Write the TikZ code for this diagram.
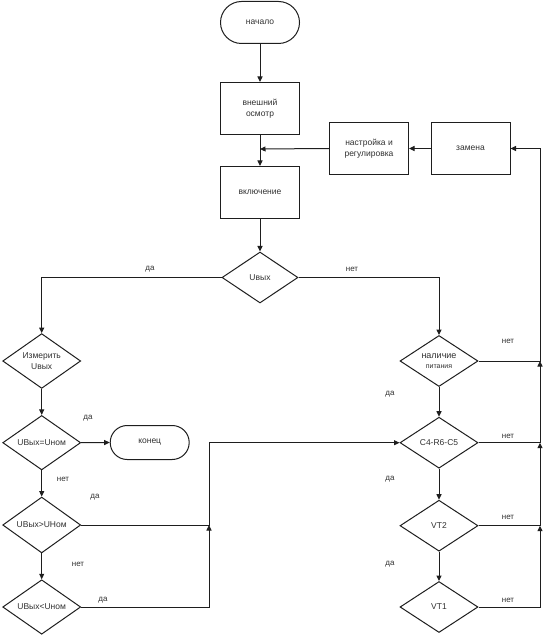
\documentclass[tikz,border=0pt]{standalone}
\usepackage{fontspec}
\setmainfont{Liberation Sans}
\usepackage{xcolor}
\usetikzlibrary{arrows.meta,shapes.geometric}
\definecolor{ink}{HTML}{1E1E1E}
\definecolor{txt}{HTML}{303030}
\tikzset{
  flow/.style={-{Triangle[length=5.5pt,width=5pt]}, draw=ink, line width=1pt},
  box/.style={rectangle, draw=ink, line width=1pt, minimum width=79pt, minimum height=52pt,
    inner sep=0pt, align=center, text=txt, font=\fontsize{8.5}{10.5}\selectfont},
  term/.style={box, rounded corners=17pt},
  cond/.style={diamond, draw=ink, line width=1pt, minimum width=78pt, minimum height=51pt,
    inner sep=0pt, align=center, text=txt, font=\fontsize{8.5}{10.5}\selectfont},
  ans/.style={text=txt, font=\fontsize{8}{9}\selectfont}
}
\begin{document}
\begin{tikzpicture}[x=1pt,y=-1pt]
  \useasboundingbox (0,0) rectangle (546,639);

  % main column
  \node[term, minimum height=42pt, rounded corners=21pt] (start) at (260,22.5) {начало};
  \node[box] (vnesh) at (260,108.5) {внешний\\осмотр};
  \node[box] (vkl) at (260,192.5) {включение};
  \node[box] (nastr) at (369,148.5) {настройка и\\регулировка};
  \node[box] (zam) at (470.5,148.5) {замена};
  \node[cond, minimum width=76pt] (uvyh) at (260,277.5) {Uвых};

  % left branch
  \node[cond] (izm) at (41.7,361) {Измерить\\Uвых};
  \node[cond] (eq) at (41.7,442.7) {UВых=Uном};
  \node[term, minimum height=34pt] (konec) at (149.7,442.5) {конец};
  \node[cond] (gt) at (41.7,525) {UВых>UНом};
  \node[cond] (lt) at (41.7,607) {UВых<Uном};

  % right branch
  \node[cond] (pit) at (439,361) {{\fontsize{9}{10.5}\selectfont наличие}\\{\fontsize{7}{8}\selectfont питания}};
  \node[cond] (c4) at (439,442.7) {C4-R6-C5};
  \node[cond] (vt2) at (439,525.7) {VT2};
  \node[cond] (vt1) at (439,607) {VT1};

  \coordinate (jm) at (260,149);
  \coordinate (jl) at (209,525);
  \coordinate (r2) at (540,361);
  \coordinate (r3) at (540,442.7);
  \coordinate (r4) at (540,525.7);

  \draw[flow] (start) -- (vnesh);
  \draw[flow] (vnesh) -- (vkl);
  \draw[flow] (nastr.west) -- (jm);
  \draw[flow] (zam.west) -- (nastr.east);
  \draw[flow] (vkl) -- (uvyh);
  \draw[flow] (uvyh.west) -| (izm.north);
  \draw[flow] (uvyh.east) -| (pit.north);

  \draw[flow] (izm) -- (eq);
  \draw[flow] (eq.east) -- (konec.west);
  \draw[flow] (eq) -- (gt);
  \draw[flow] (gt) -- (lt);
  \draw[flow] (lt.east) -| (jl);
  \draw[flow] (gt.east) -- (jl) |- (c4.west);

  \draw[flow] (pit) -- (c4);
  \draw[flow] (c4) -- (vt2);
  \draw[flow] (vt2) -- (vt1);
  \draw[flow] (vt1.east) -| (r4);
  \draw[flow] (vt2.east) -- (r4) -- (r3);
  \draw[flow] (c4.east) -- (r3) -- (r2);
  \draw[flow] (pit.east) -- (r2) |- (zam.east);

  % answers
  \node[ans] at (150,269) {да};
  \node[ans] at (352,269) {нет};
  \node[ans] at (88,418) {да};
  \node[ans] at (63,479) {нет};
  \node[ans] at (95,497) {да};
  \node[ans] at (78,564) {нет};
  \node[ans] at (103,600) {да};
  \node[ans] at (508,341) {нет};
  \node[ans] at (390,394) {да};
  \node[ans] at (508,436) {нет};
  \node[ans] at (390,479) {да};
  \node[ans] at (508,517) {нет};
  \node[ans] at (390,564) {да};
  \node[ans] at (508,600) {нет};
\end{tikzpicture}
\end{document}
